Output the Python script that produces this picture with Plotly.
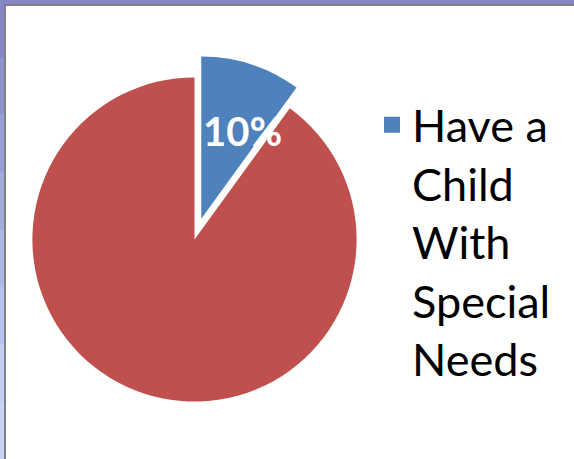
import plotly.graph_objects as go

# ---- data ----
labels = ["Have a Child With Special Needs", "Other"]
values = [10, 90]
legend_label = "Have a<br>Child<br>With<br>Special<br>Needs"
slice_colors = ["#4F81BD", "#C0504D"]

W, H = 574, 459

fig = go.Figure()

fig.add_trace(go.Pie(
    labels=labels,
    values=values,
    sort=False,
    direction="clockwise",
    rotation=0,
    pull=[0.135, 0],
    marker=dict(colors=slice_colors, line=dict(width=0)),
    textinfo="none",
    hoverinfo="label+percent",
    showlegend=False,
    domain=dict(x=[10.5 / W, 378.5 / W], y=[1 - 423.5 / H, 1 - 55.5 / H]),
))

# legend entry (only the blue category is listed)
fig.add_trace(go.Scatter(
    x=[None], y=[None], mode="markers",
    marker=dict(symbol="square", size=16, color=slice_colors[0]),
    name=legend_label, showlegend=True, hoverinfo="skip",
))

pct = round(100 * values[0] / sum(values))
fig.add_annotation(
    text=f"<b>{pct}%</b>", x=242 / W, y=1 - 131 / H, xref="paper", yref="paper",
    showarrow=False, font=dict(family="Lato", size=40, color="white"),
    xanchor="center", yanchor="middle",
)

# frame
shapes = []
band_colors = ["#8587C6", "#8E93CE", "#989FD6", "#A3ABDE", "#AEB7E6", "#B9C2EE", "#C4CDF5", "#CAD3F8"]
n = len(band_colors)
for i, c in enumerate(band_colors):
    shapes.append(dict(type="rect", xref="paper", yref="paper", x0=0, x1=4 / W,
                       y0=max(0, 1 - (i + 1) / n - 2 / H), y1=1 - i / n,
                       fillcolor=c, line=dict(width=0), layer="above"))
shapes += [
    dict(type="rect", xref="paper", yref="paper", x0=0, x1=1, y0=1 - 4 / H, y1=1,
         fillcolor="#8587C6", line=dict(width=0), layer="above"),
    dict(type="rect", xref="paper", yref="paper", x0=4 / W, x1=1, y0=1 - 6 / H, y1=1 - 4 / H,
         fillcolor="#808080", line=dict(width=0), layer="above"),
    dict(type="rect", xref="paper", yref="paper", x0=4 / W, x1=6 / W, y0=0, y1=1 - 4 / H,
         fillcolor="#808080", line=dict(width=0), layer="above"),
]

fig.update_layout(
    width=W, height=H,
    margin=dict(l=0, r=0, t=0, b=0, autoexpand=False),
    paper_bgcolor="white", plot_bgcolor="white",
    xaxis=dict(visible=False), yaxis=dict(visible=False),
    showlegend=True,
    legend=dict(x=372 / W, y=1 - 89 / H, xanchor="left", yanchor="top",
                valign="top", font=dict(family="Lato", size=45, color="black"),
                bgcolor="rgba(0,0,0,0)"),
    shapes=shapes,
)

fig.write_html(
    "out.html",
    config={"displayModeBar": False},
    post_script="document.body.style.margin='0';document.body.style.overflow='hidden';",
)
